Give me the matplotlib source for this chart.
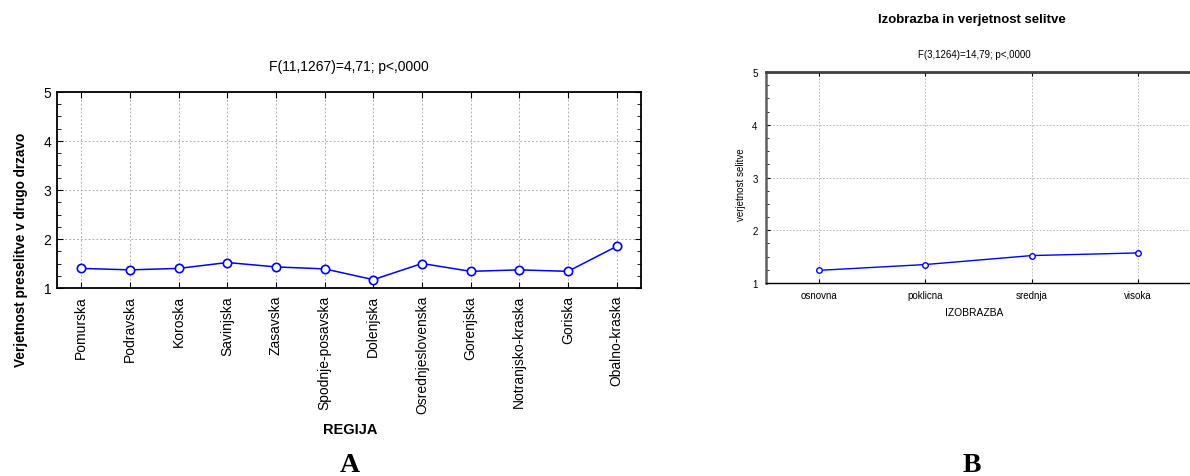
import matplotlib
matplotlib.use("Agg")
import matplotlib.pyplot as plt
from matplotlib.ticker import MultipleLocator

plt.rcParams['font.family'] = ['Liberation Sans', 'DejaVu Sans']

regions = ["Pomurska", "Podravska", "Koroska", "Savinjska", "Zasavska",
           "Spodnje-posavska", "Dolenjska", "Osrednjeslovenska", "Gorenjska",
           "Notranjsko-kraska", "Goriska", "Obalno-kraska"]
region_values = [1.40, 1.37, 1.40, 1.52, 1.43, 1.39, 1.17, 1.50, 1.34, 1.37, 1.34, 1.85]

education = ["osnovna", "poklicna", "srednja", "visoka"]
education_values = [1.24, 1.35, 1.52, 1.57]

yticks = [1, 2, 3, 4, 5]

W, H = 1190, 477
fig = plt.figure(figsize=(W / 100, H / 100), dpi=100)

# ---------- Chart A ----------
axA = fig.add_axes([57 / W, 1 - 289 / H, (641 - 57) / W, (289 - 93) / H])
xa = list(range(len(regions)))
axA.plot(xa, region_values, color='#0000FF', lw=1.1, marker='o', ms=6,
         mfc='white', mec='#0000FF', mew=1.2, zorder=3)
axA.set_xlim(-0.5, len(regions) - 0.5)
axA.set_ylim(1, 5)
axA.set_xticks(xa)
axA.set_xticklabels(regions, rotation=90, fontsize=10)
axA.set_yticks(yticks)
axA.set_yticklabels([str(t) for t in yticks], fontsize=10)
axA.yaxis.set_minor_locator(MultipleLocator(0.25))
axA.grid(True, which='major', color='#b0b0b0', linestyle=(0, (2, 2)), lw=0.7)
axA.tick_params(axis='both', which='both', direction='in', top=True, right=True)
axA.tick_params(axis='x', which='major', length=4, pad=5)
axA.tick_params(axis='y', which='major', length=4, pad=4)
axA.tick_params(axis='y', which='minor', length=3)
for s in axA.spines.values():
    s.set_linewidth(1.3)
    s.set_color('black')
fig.text(349 / W, 1 - 67 / H, "F(11,1267)=4,71; p<,0000", ha='center', va='center', fontsize=10)
fig.text(21 / W, 1 - 250 / H, "Verjetnost preselitve v drugo drzavo", rotation=90,
         ha='center', va='center', fontsize=9.8, fontweight='bold')
fig.text(350 / W, 1 - 430 / H, "REGIJA", ha='center', va='center', fontsize=10.5, fontweight='bold')
fig.text(350 / W, 1 - 466 / H, "A", ha='center', va='center', fontsize=20, fontweight='bold',
         family='Liberation Serif')

# ---------- Chart B ----------
axB = fig.add_axes([766 / W, 1 - 284 / H, (1191 - 766) / W, (284 - 73) / H])
xb = list(range(len(education)))
axB.plot(xb, education_values, color='#0000FF', lw=1.0, marker='o', ms=4,
         mfc='white', mec='#0000FF', mew=1.0, zorder=3)
axB.set_xlim(-0.5, len(education) - 0.5)
axB.set_ylim(1, 5)
axB.set_xticks(xb)
axB.set_xticklabels(education, fontsize=7)
axB.set_yticks(yticks)
axB.set_yticklabels([str(t) for t in yticks], fontsize=7)
axB.yaxis.set_minor_locator(MultipleLocator(0.25))
axB.grid(True, which='major', color='#b0b0b0', linestyle=(0, (2, 2)), lw=0.6)
axB.tick_params(axis='both', which='both', direction='in', top=True, right=False)
axB.tick_params(axis='x', which='major', length=3, pad=5)
axB.tick_params(axis='y', which='major', length=3, pad=6)
axB.tick_params(axis='y', which='minor', length=2)
axB.spines['top'].set_linewidth(2.0)
axB.spines['top'].set_color('#404040')
axB.spines['left'].set_linewidth(1.8)
axB.spines['left'].set_color('#606060')
axB.spines['bottom'].set_linewidth(1.0)
axB.spines['right'].set_visible(False)
fig.text(972 / W, 1 - 20 / H, "Izobrazba in verjetnost selitve", ha='center', va='center',
         fontsize=9.5, fontweight='bold')
fig.text(974 / W, 1 - 55 / H, "F(3,1264)=14,79; p<,0000", ha='center', va='center', fontsize=7)
fig.text(741 / W, 1 - 185 / H, "verjetnost selitve", rotation=90, ha='center', va='center', fontsize=7)
fig.text(974 / W, 1 - 313 / H, "IZOBRAZBA", ha='center', va='center', fontsize=7.4)
fig.text(972 / W, 1 - 466 / H, "B", ha='center', va='center', fontsize=20, fontweight='bold',
         family='Liberation Serif')

fig.savefig("out.png", dpi=100)
